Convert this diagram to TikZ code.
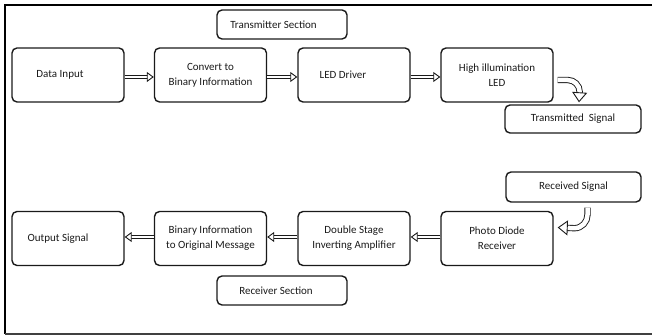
\documentclass[tikz,border=0pt]{standalone}
\usepackage{fontspec}
\setmainfont{Carlito}
\usepackage{xcolor}
\usetikzlibrary{arrows.meta}
\definecolor{FigureInk}{HTML}{1A1A1A}
\definecolor{FigureFrame}{HTML}{404040}
\newcommand{\BoxText}{\fontsize{11}{15}\selectfont}
\newcommand{\PadRight}[1]{\hspace*{#1}}
\tikzset{
  block box/.style={draw=FigureInk,line width=1.4pt,rounded corners=5pt,
    minimum width=112pt,minimum height=54pt,align=center,inner sep=1pt,
    font=\BoxText,text=FigureInk},
  tag box/.style={draw=FigureInk,line width=1.4pt,rounded corners=5pt,
    minimum height=29pt,align=center,inner sep=1pt,font=\BoxText,text=FigureInk},
  % shaft as a double line, head as a white filled triangle on top
  hollow arrow/.style={draw=white,line width=0.3pt,
    -{Triangle[length=7pt,width=10pt,fill=white,color=FigureInk,line width=0.9pt]},
    preaction={draw=FigureInk,line width=0.9pt,double=white,double distance=2.6pt,
      -,shorten >=4pt}},
  bent arrow/.style={draw=white,line width=0.3pt,
    -{Triangle[length=10pt,width=15pt,fill=white,color=FigureInk,line width=0.9pt]},
    preaction={draw=FigureInk,line width=0.9pt,double=white,double distance=4.5pt,
      -,shorten >=6pt}},
  frame line/.style={draw=black,line width=1.6pt}
}

\begin{document}
\begin{tikzpicture}[x=1pt,y=1pt]
  % 652 x 336 px, one px per pt
  \path[use as bounding box] (0,0) rectangle (652,336);
  \draw[frame line] (652,331) -- (5,331) -- (5,2);
  \draw[draw=FigureFrame,line width=1.2pt] (5,2) -- (652,2);

  % transmitter side
  \node[tag box,minimum width=130pt] (txsec) at (282,311.5) {Transmitter Section\PadRight{17pt}};
  \node[block box] (datain)   at (68,261)    {Data Input\PadRight{16pt}};
  \node[block box] (tobinary) at (210.5,261) {Convert to\\Binary Information};
  \node[block box] (leddrv)   at (354,261)   {LED Driver\PadRight{22pt}};
  \node[block box] (hiled)    at (497,261)   {High illumination\\LED};
  \node[tag box,minimum width=136pt,minimum height=28pt] (txsig) at (573,217) {Transmitted\ \ Signal};

  \draw[hollow arrow] ([yshift=-2pt]datain.east) -- ([yshift=-2pt]tobinary.west);
  \draw[hollow arrow] ([yshift=-2pt]tobinary.east) -- ([yshift=-2pt]leddrv.west);
  \draw[hollow arrow] ([yshift=-2pt]leddrv.east) -- ([yshift=-2pt]hiled.west);
  \draw[bent arrow,shorten <=4pt] ([yshift=-5pt]hiled.east) -- ++(14,0)
    to[out=0,in=90] ++(12,-12) -- ([xshift=6pt,yshift=2pt]txsig.north);

  % receiver side
  \node[tag box,minimum width=135pt,minimum height=30pt] (rxsig) at (573.5,149) {Received Signal};
  \node[block box] (outsig) at (68,97.5)    {Output Signal\PadRight{20pt}};
  \node[block box] (tomsg)  at (210.5,97.5) {Binary Information\\to Original Message};
  \node[block box] (amp)    at (354,97.5)   {Double Stage\\Inverting Amplifier};
  \node[block box] (photo)  at (497,97.5)   {Photo Diode\\Receiver};
  \node[tag box,minimum width=130pt] (rxsec) at (282,45.5) {Receiver Section\PadRight{12pt}};

  \draw[hollow arrow] ([yshift=1.5pt]photo.west) -- ([yshift=1.5pt]amp.east);
  \draw[hollow arrow] ([yshift=1.5pt]amp.west) -- ([yshift=1.5pt]tomsg.east);
  \draw[hollow arrow] ([yshift=1.5pt]tomsg.west) -- ([yshift=1.5pt]outsig.east);
  \draw[bent arrow,shorten <=5pt] ([xshift=14pt]rxsig.south) -- ++(0,-12)
    to[out=-90,in=0] ++(-13,-13.5) -- ([xshift=4pt,yshift=11pt]photo.east);
\end{tikzpicture}
\end{document}
